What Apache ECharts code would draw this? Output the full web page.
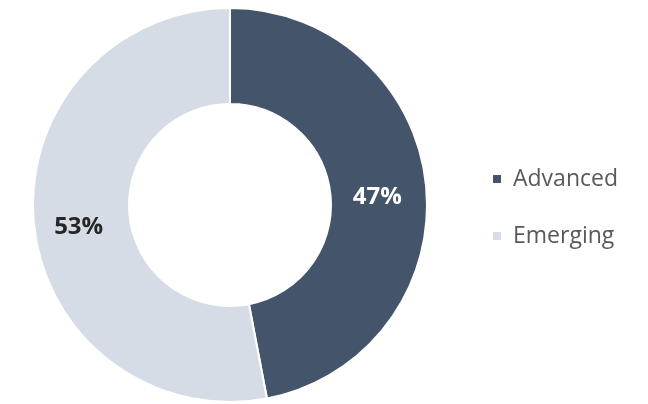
<!DOCTYPE html>
<html>
<head>
<meta charset="utf-8">
<script src="https://cdn.jsdelivr.net/npm/echarts@6/dist/echarts.min.js"></script>
<style>
  html, body { margin: 0; padding: 0; background: #ffffff; }
  #chart { width: 648px; height: 404px; }
</style>
</head>
<body>
<div id="chart"></div>
<script>
// Share of markets by category
const categories = ['Advanced', 'Emerging'];
const shares = [47, 53];
const sliceColors = ['#44546a', '#d6dce5'];
const labelColors = ['#ffffff', '#262626'];
const labelOffsets = [[-4, 6], [0, 8]];

const chart = echarts.init(document.getElementById('chart'));

chart.setOption({
  animation: false,
  color: sliceColors,
  legend: {
    orient: 'vertical',
    left: 486,
    top: 162,
    itemWidth: 10,
    itemHeight: 10,
    itemGap: 33,
    icon: 'rect',
    textStyle: {
      fontFamily: 'Open Sans',
      fontSize: 23,
      lineHeight: 24,
      color: '#595959',
      padding: [0, 0, 0, 6]
    },
    data: categories
  },
  series: [{
    type: 'pie',
    center: [230, 205],
    radius: [101, 197],
    startAngle: 90,
    clockwise: true,
    avoidLabelOverlap: false,
    itemStyle: { borderColor: '#ffffff', borderWidth: 2 },
    label: {
      show: true,
      position: 'inside',
      formatter: '{c}%',
      fontFamily: 'Open Sans',
      fontWeight: 'bold',
      fontSize: 24
    },
    labelLine: { show: false },
    data: categories.map((name, i) => ({
      name: name,
      value: shares[i],
      label: { color: labelColors[i], offset: labelOffsets[i] }
    }))
  }]
});
</script>
</body>
</html>
